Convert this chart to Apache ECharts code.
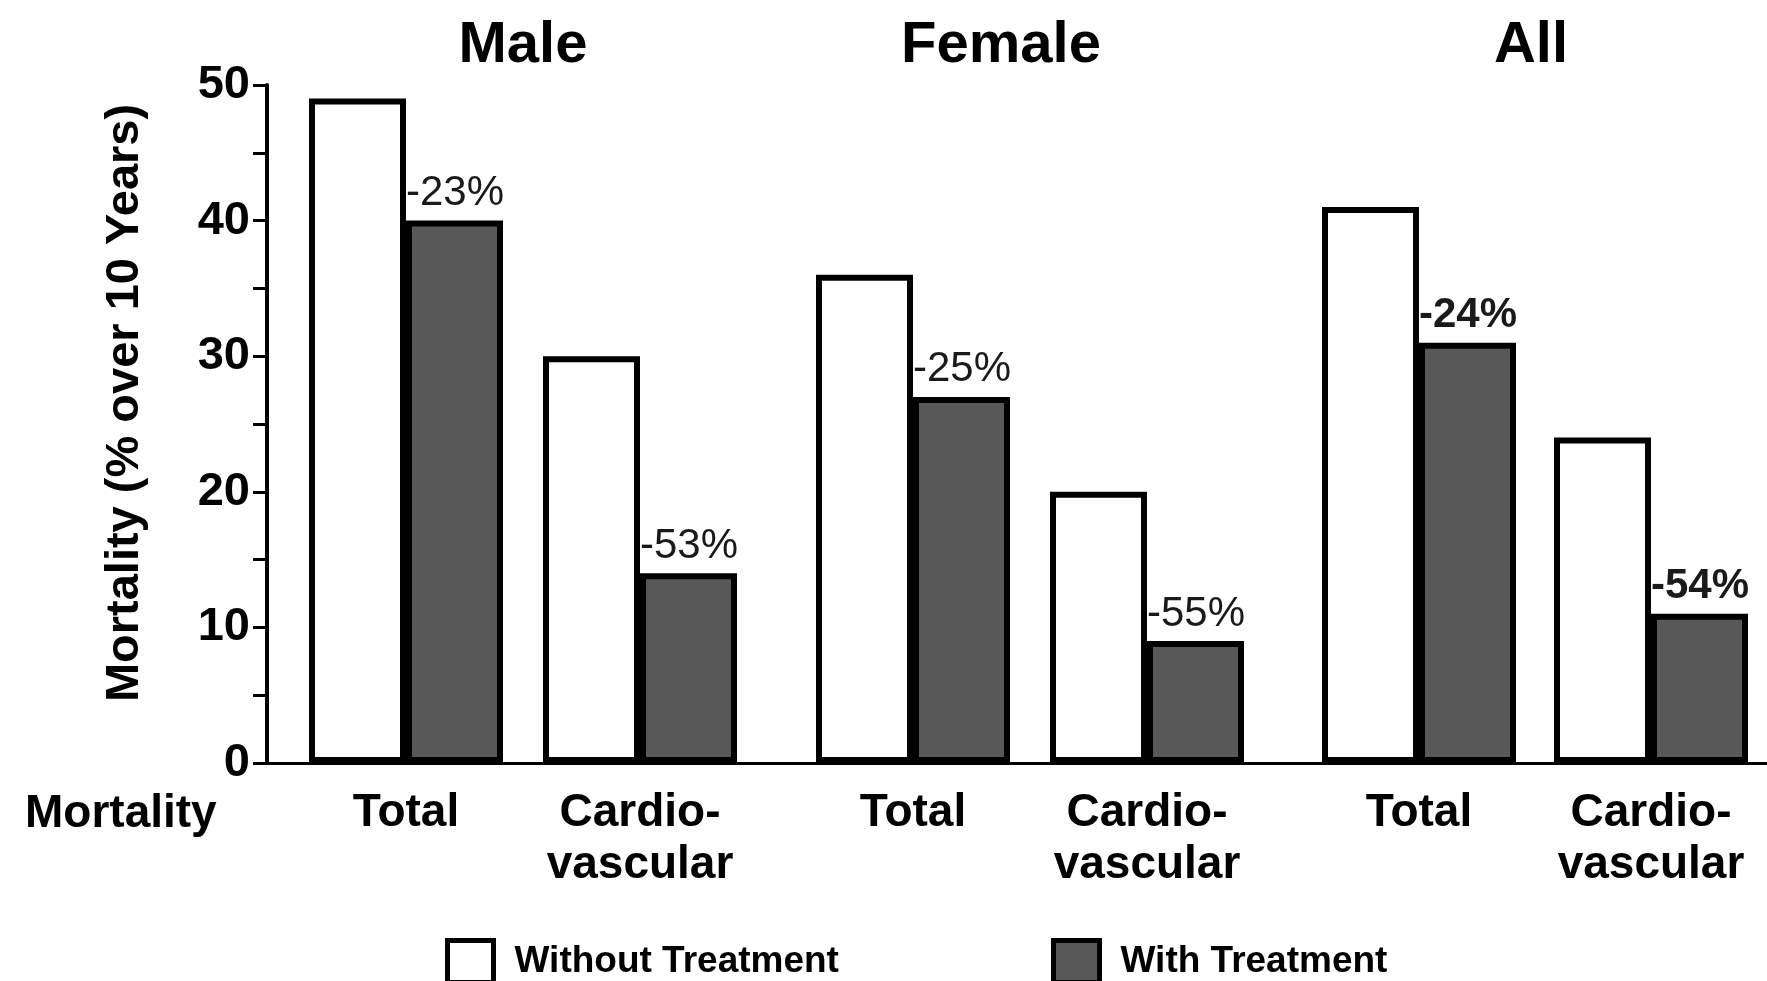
<!DOCTYPE html>
<html>
<head>
<meta charset="utf-8">
<script src="https://cdn.jsdelivr.net/npm/echarts@6/dist/echarts.min.js"></script>
<style>
  html, body { margin: 0; padding: 0; background: #fff; }
  #chart { width: 1767px; height: 981px; }
</style>
</head>
<body>
<div id="chart"></div>
<script>
const groups = ['Male', 'Female', 'All'];
const categories = ['Total', 'Cardio-\nvascular'];
const withoutTreatment = [49, 30, 36, 20, 41, 24];
const withTreatment = [40, 14, 27, 9, 31, 11];
const reductions = ['-23%', '-53%', '-25%', '-55%', '-24%', '-54%'];

const chart = echarts.init(document.getElementById('chart'));
const font = '"Liberation Sans", Arial, sans-serif';

// main grid carries the y axis and the base line, one overlay grid per group holds the bars
const groupGrids = [
    {left: 289, width: 468},
    {left: 796, width: 468},
    {left: 1303, width: 464}
];
const titleCenters = [518, 996, 1526];
const plotTop = 85;
const plotBottom = 218;

let grids = [{left: 267, right: 0, top: plotTop, bottom: plotBottom}];
let xAxes = [{
    type: 'value', gridIndex: 0, min: 0, max: 1,
    axisLine: {show: true, onZero: false, lineStyle: {color: '#000', width: 3}},
    axisTick: {show: false},
    axisLabel: {show: false},
    splitLine: {show: false}
}];
let yAxes = [{
    type: 'value', gridIndex: 0, min: 0, max: 50, interval: 5,
    name: 'Mortality (% over 10 Years)',
    nameLocation: 'middle',
    nameGap: 118,
    nameRotate: 90,
    nameTextStyle: {fontFamily: font, fontSize: 47, fontWeight: 'bold', color: '#000', padding: [0, 0, 0, 42]},
    axisLine: {show: true, lineStyle: {color: '#000', width: 4}},
    axisTick: {show: true, length: 14, lineStyle: {color: '#000', width: 3}},
    axisLabel: {
        fontFamily: font, fontSize: 47, fontWeight: 'bold', color: '#000', margin: 17,
        formatter: function (v) { return v % 10 === 0 ? v : ''; }
    },
    splitLine: {show: false}
}];
let series = [];
let titles = [];

groups.forEach(function (g, i) {
    grids.push({left: groupGrids[i].left, width: groupGrids[i].width, top: plotTop, bottom: plotBottom});
    xAxes.push({
        type: 'category', gridIndex: i + 1, data: categories,
        axisLine: {show: false},
        axisTick: {show: false},
        axisLabel: {interval: 0, fontFamily: font, fontSize: 46, fontWeight: 'bold', color: '#000', margin: 24, lineHeight: 52}
    });
    yAxes.push({type: 'value', gridIndex: i + 1, min: 0, max: 50, show: false});

    series.push({
        name: 'Without Treatment',
        type: 'bar',
        xAxisIndex: i + 1, yAxisIndex: i + 1,
        data: withoutTreatment.slice(2 * i, 2 * i + 2),
        barWidth: 97, barGap: 0,
        itemStyle: {color: '#fff', borderColor: '#000', borderWidth: 6}
    });
    series.push({
        name: 'With Treatment',
        type: 'bar',
        xAxisIndex: i + 1, yAxisIndex: i + 1,
        data: withTreatment.slice(2 * i, 2 * i + 2),
        barWidth: 97, barGap: 0,
        itemStyle: {color: '#585858', borderColor: '#000', borderWidth: 6},
        label: {
            show: true,
            position: [0, -6],
            align: 'left',
            verticalAlign: 'bottom',
            fontFamily: font,
            fontSize: 42,
            fontWeight: i === 2 ? 'bold' : 'normal',
            color: '#1a1a1a',
            formatter: function (p) { return reductions[2 * i + p.dataIndex]; }
        }
    });

    titles.push({
        text: g, left: titleCenters[i], top: 12, textAlign: 'center',
        textStyle: {fontFamily: font, fontSize: 58, fontWeight: 'bold', color: '#000'}
    });
});

titles.push({
    text: 'Mortality', left: 20, top: 786,
    textStyle: {fontFamily: font, fontSize: 46, fontWeight: 'bold', color: '#000'}
});

const legendBase = {
    top: 933, itemWidth: 46, itemHeight: 42, icon: 'rect', selectedMode: false,
    itemStyle: {borderWidth: 5, borderColor: '#000'},
    textStyle: {fontFamily: font, fontSize: 37, fontWeight: 'bold', color: '#000', padding: [0, 0, 0, 16]}
};

chart.setOption({
    animation: false,
    backgroundColor: '#fff',
    title: titles,
    legend: [
        Object.assign({}, legendBase, {data: ['Without Treatment'], left: 440}),
        Object.assign({}, legendBase, {data: ['With Treatment'], left: 1046})
    ],
    grid: grids,
    xAxis: xAxes,
    yAxis: yAxes,
    series: series
});
</script>
</body>
</html>
